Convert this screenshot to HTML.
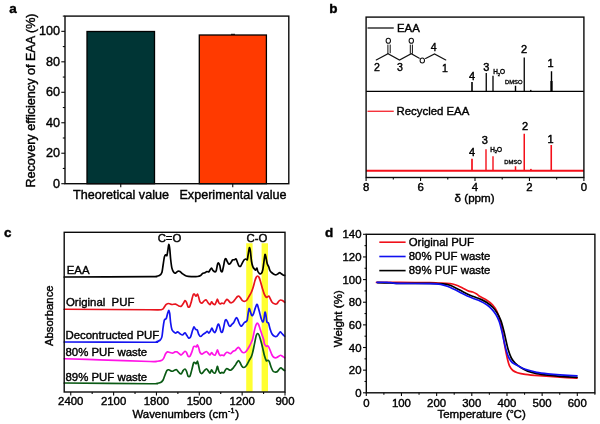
<!DOCTYPE html>
<html><head><meta charset="utf-8"><title>Figure</title>
<style>
html,body{margin:0;padding:0;background:#fff;}
body{width:600px;height:424px;overflow:hidden;font-family:"Liberation Sans",sans-serif;}
svg{display:block;filter:blur(0.35px);font-family:"Liberation Sans",sans-serif;}
text{fill:#000;stroke:#000;stroke-width:0.4px;}
.t{font-size:11.4px;}
#pa .t{font-size:12.6px;}
.pl{font-size:13.5px;font-weight:bold;}
.ax{stroke:#0a0a0a;stroke-width:1.4;fill:none;}
.tk{stroke:#0a0a0a;stroke-width:1.1;fill:none;}
.cv{fill:none;stroke-width:1.7;stroke-linejoin:round;stroke-linecap:round;}
</style></head><body>
<svg width="600" height="424" viewBox="0 0 600 424">
<rect width="600" height="424" fill="#fff"/>

<g id="pa">
<text class="pl" x="9.3" y="13.4">a</text>
<rect x="87" y="31.5" width="67.5" height="152.2" fill="#003535" stroke="#000" stroke-width="1.3"/>
<rect x="199.3" y="35" width="67.1" height="148.7" fill="#ff3a00" stroke="#000" stroke-width="1.3"/>
<line x1="231" y1="34.3" x2="235" y2="34.3" stroke="#000" stroke-width="1"/>
<rect class="ax" x="65" y="16.1" width="223.8" height="167.6"/>
<line class="tk" x1="61.3" y1="183.70" x2="65" y2="183.70"/>
<text class="t" x="60" y="187.70" text-anchor="end">0</text>
<line class="tk" x1="61.3" y1="153.23" x2="65" y2="153.23"/>
<text class="t" x="60" y="157.23" text-anchor="end">20</text>
<line class="tk" x1="61.3" y1="122.76" x2="65" y2="122.76"/>
<text class="t" x="60" y="126.76" text-anchor="end">40</text>
<line class="tk" x1="61.3" y1="92.28" x2="65" y2="92.28"/>
<text class="t" x="60" y="96.28" text-anchor="end">60</text>
<line class="tk" x1="61.3" y1="61.81" x2="65" y2="61.81"/>
<text class="t" x="60" y="65.81" text-anchor="end">80</text>
<line class="tk" x1="61.3" y1="31.34" x2="65" y2="31.34"/>
<text class="t" x="60" y="35.34" text-anchor="end">100</text>
<line class="tk" x1="62.8" y1="168.46" x2="65" y2="168.46"/>
<line class="tk" x1="62.8" y1="137.99" x2="65" y2="137.99"/>
<line class="tk" x1="62.8" y1="107.52" x2="65" y2="107.52"/>
<line class="tk" x1="62.8" y1="77.05" x2="65" y2="77.05"/>
<line class="tk" x1="62.8" y1="46.58" x2="65" y2="46.58"/>
<line class="tk" x1="62.8" y1="16.10" x2="65" y2="16.10"/>
<line class="tk" x1="120.75" y1="183.7" x2="120.75" y2="187.2"/>
<line class="tk" x1="232.75" y1="183.7" x2="232.75" y2="187.2"/>
<text class="t" x="121" y="198.5" text-anchor="middle">Theoretical value</text>
<text class="t" x="233" y="198.5" text-anchor="middle">Experimental value</text>
<text class="t" transform="translate(35,100.5) rotate(-90)" text-anchor="middle">Recovery efficiency of EAA (%)</text>
</g>
<g id="pb">
<text class="pl" x="329.3" y="13">b</text>
<line x1="366.1" y1="91.4" x2="583.9" y2="91.4" stroke="#000" stroke-width="1.2"/>
<line x1="472" y1="82" x2="472" y2="91.4" stroke="#000" stroke-width="1.6"/>
<line x1="486.25" y1="73" x2="486.25" y2="91.4" stroke="#000" stroke-width="1.3"/>
<line x1="493" y1="75.75" x2="493" y2="91.4" stroke="#000" stroke-width="1.3"/>
<line x1="515.5" y1="85.75" x2="515.5" y2="91.4" stroke="#000" stroke-width="1.4"/>
<line x1="524.25" y1="57.5" x2="524.25" y2="91.4" stroke="#000" stroke-width="1.3"/>
<line x1="551.5" y1="71.25" x2="551.5" y2="91.4" stroke="#000" stroke-width="1.4"/>
<line x1="551.5" y1="81" x2="551.5" y2="91.4" stroke="#000" stroke-width="2.2"/>
<line x1="530" y1="90.4" x2="531.5" y2="90.4" stroke="#000" stroke-width="1"/>
<line x1="367.5" y1="28" x2="393.75" y2="28" stroke="#000" stroke-width="1.2"/>
<text class="t" x="397" y="32">EAA</text>
<g stroke="#111" stroke-width="1.15" fill="none" stroke-linecap="round">
<polyline points="376.25,60 388,53.75 399.5,60 411.25,53.75 419.3,58.2"/>
<polyline points="425.6,58.4 434.5,54 445.75,60"/>
<line x1="387.9" y1="45" x2="387.9" y2="53.6" stroke-width="1"/><line x1="390.2" y1="45" x2="390.2" y2="52.8" stroke-width="1"/>
<ellipse cx="388.3" cy="40.7" rx="2.2" ry="2.55" stroke-width="1.05"/><ellipse cx="411.3" cy="40.7" rx="2.2" ry="2.55" stroke-width="1.05"/><ellipse cx="422.3" cy="60.4" rx="2.2" ry="2.5" stroke-width="1.05"/>
<line x1="410.3" y1="45" x2="410.3" y2="53.4" stroke-width="1"/><line x1="412.4" y1="45" x2="412.4" y2="53.4" stroke-width="1"/>
</g>
<text x="377" y="70.5" font-size="10.6" text-anchor="middle">2</text>
<text x="400" y="70.5" font-size="10.6" text-anchor="middle">3</text>
<text x="433.75" y="51" font-size="10.6" text-anchor="middle">4</text>
<text x="445" y="72" font-size="10.6" text-anchor="middle">1</text>
<text x="472" y="80" font-size="11" text-anchor="middle" style="stroke-width:0.45px">4</text>
<text x="486.25" y="71" font-size="11" text-anchor="middle" style="stroke-width:0.45px">3</text>
<text x="524" y="53" font-size="11" text-anchor="middle" style="stroke-width:0.45px">2</text>
<text x="550.5" y="66.75" font-size="11" text-anchor="middle" style="stroke-width:0.45px">1</text>
<text x="493.2" y="74.3" font-size="6.4">H<tspan font-size="4" dy="1.3">2</tspan><tspan dy="-1.3">O</tspan></text>
<text x="505" y="84.2" font-size="5.6" style="stroke-width:0.3px" textLength="17.5" lengthAdjust="spacingAndGlyphs">DMSO</text>
<line x1="366.1" y1="170.75" x2="583.9" y2="170.75" stroke="#f40f19" stroke-width="2"/>
<line x1="472" y1="158.75" x2="472" y2="170.75" stroke="#f40f19" stroke-width="1.7"/>
<line x1="486" y1="149.25" x2="486" y2="170.75" stroke="#f40f19" stroke-width="1.4"/>
<line x1="493" y1="156.25" x2="493" y2="170.75" stroke="#f40f19" stroke-width="1.4"/>
<line x1="515.5" y1="166.25" x2="515.5" y2="170.75" stroke="#f40f19" stroke-width="1.5"/>
<line x1="524.25" y1="133.75" x2="524.25" y2="170.75" stroke="#f40f19" stroke-width="1.5"/>
<line x1="551.25" y1="145" x2="551.25" y2="170.75" stroke="#f40f19" stroke-width="1.6"/>
<line x1="530" y1="169.4" x2="531.8" y2="169.4" stroke="#f40f19" stroke-width="1"/>
<line x1="367.5" y1="111.25" x2="393.75" y2="111.25" stroke="#f40f19" stroke-width="1.2"/>
<text class="t" x="396.5" y="115">Recycled EAA</text>
<text x="472" y="156.25" font-size="11" text-anchor="middle" style="stroke-width:0.45px">4</text>
<text x="484.7" y="143.75" font-size="11" text-anchor="middle" style="stroke-width:0.45px">3</text>
<text x="525" y="130" font-size="11" text-anchor="middle" style="stroke-width:0.45px">2</text>
<text x="550.5" y="142.5" font-size="11" text-anchor="middle" style="stroke-width:0.45px">1</text>
<text x="490.2" y="152" font-size="6.4">H<tspan font-size="4" dy="1.3">2</tspan><tspan dy="-1.3">O</tspan></text>
<text x="504.2" y="163.7" font-size="5.6" style="stroke-width:0.3px" textLength="17.5" lengthAdjust="spacingAndGlyphs">DMSO</text>
<rect class="ax" x="366.1" y="17.1" width="217.79999999999995" height="160.4"/>
<line class="tk" x1="583.90" y1="177.5" x2="583.90" y2="181.0"/>
<text class="t" x="583.90" y="190.9" text-anchor="middle">0</text>
<line class="tk" x1="556.67" y1="177.5" x2="556.67" y2="179.5"/>
<line class="tk" x1="529.45" y1="177.5" x2="529.45" y2="181.0"/>
<text class="t" x="529.45" y="190.9" text-anchor="middle">2</text>
<line class="tk" x1="502.22" y1="177.5" x2="502.22" y2="179.5"/>
<line class="tk" x1="475.00" y1="177.5" x2="475.00" y2="181.0"/>
<text class="t" x="475.00" y="190.9" text-anchor="middle">4</text>
<line class="tk" x1="447.77" y1="177.5" x2="447.77" y2="179.5"/>
<line class="tk" x1="420.55" y1="177.5" x2="420.55" y2="181.0"/>
<text class="t" x="420.55" y="190.9" text-anchor="middle">6</text>
<line class="tk" x1="393.32" y1="177.5" x2="393.32" y2="179.5"/>
<line class="tk" x1="366.10" y1="177.5" x2="366.10" y2="181.0"/>
<text class="t" x="366.10" y="190.9" text-anchor="middle">8</text>
<text class="t" x="474.6" y="201.8" text-anchor="middle" style="font-size:11.6px">δ (ppm)</text>
</g>
<g id="pc">
<text class="pl" x="4" y="236.5">c</text>
<rect x="246.2" y="243.25" width="6.4" height="148.5" fill="#ffff32"/>
<rect x="261.6" y="243.25" width="6.4" height="148.5" fill="#ffff32"/>
<path class="cv" stroke="#000" d="M64.25,277.00C76.40,276.94 137.14,276.67 150.00,276.60C162.86,276.53 153.67,276.64 155.00,276.50C156.33,276.36 158.42,276.17 159.40,275.60C160.38,275.03 161.38,274.00 161.90,272.50C162.42,271.00 162.75,267.21 163.10,265.00C163.45,262.79 164.05,258.35 164.40,256.90C164.75,255.45 165.25,254.93 165.60,254.75C165.95,254.57 166.57,256.27 166.90,255.60C167.23,254.93 167.64,251.59 167.90,250.00C168.16,248.41 168.49,244.58 168.75,244.40C169.01,244.22 169.49,246.72 169.75,248.75C170.01,250.78 170.30,256.01 170.60,258.75C170.90,261.49 171.45,266.19 171.90,268.10C172.35,270.01 173.23,271.54 173.75,272.25C174.27,272.96 175.03,273.24 175.60,273.10C176.17,272.96 177.13,271.48 177.75,271.25C178.37,271.02 179.33,271.15 180.00,271.50C180.67,271.85 181.61,273.11 182.50,273.75C183.39,274.39 185.01,275.60 186.25,276.00C187.49,276.40 189.66,276.53 191.25,276.60C192.84,276.67 196.18,276.64 197.50,276.50C198.82,276.36 199.89,276.03 200.60,275.60C201.31,275.18 201.88,273.90 202.50,273.50C203.12,273.10 204.38,273.03 205.00,272.75C205.62,272.47 206.37,271.62 206.90,271.50C207.43,271.38 208.31,272.11 208.75,271.90C209.19,271.69 209.61,270.54 210.00,270.00C210.39,269.46 211.06,268.02 211.50,268.10C211.94,268.19 212.56,270.06 213.10,270.60C213.64,271.14 214.85,271.90 215.30,271.90C215.75,271.90 215.94,271.66 216.25,270.60C216.56,269.54 217.18,265.49 217.50,264.40C217.82,263.31 218.17,262.73 218.50,262.90C218.83,263.07 219.46,264.45 219.80,265.60C220.14,266.75 220.55,270.16 220.90,271.00C221.25,271.84 221.88,272.17 222.25,271.50C222.62,270.83 223.15,267.88 223.50,266.25C223.85,264.62 224.41,261.06 224.75,260.00C225.09,258.94 225.57,258.57 225.90,258.75C226.23,258.93 226.70,260.51 227.10,261.25C227.50,261.99 228.25,263.74 228.75,264.00C229.25,264.26 230.07,263.67 230.60,263.10C231.13,262.53 231.96,260.47 232.50,260.00C233.04,259.53 233.90,259.89 234.40,259.75C234.90,259.61 235.56,258.61 236.00,259.00C236.44,259.39 237.07,261.51 237.50,262.50C237.93,263.49 238.56,265.47 239.00,266.00C239.44,266.53 240.14,266.66 240.60,266.25C241.06,265.84 241.77,263.99 242.25,263.10C242.73,262.21 243.53,260.58 244.00,260.00C244.47,259.42 245.14,259.04 245.60,259.00C246.06,258.96 246.90,260.32 247.25,259.75C247.60,259.18 247.80,256.70 248.10,255.00C248.40,253.30 249.07,248.28 249.40,247.75C249.73,247.22 250.10,249.34 250.40,251.25C250.70,253.16 251.15,259.03 251.50,261.25C251.85,263.47 252.44,265.75 252.90,266.90C253.36,268.05 254.37,268.96 254.75,269.40C255.13,269.84 255.30,270.18 255.60,270.00C255.90,269.82 256.60,267.92 256.90,268.10C257.20,268.28 257.40,270.49 257.75,271.25C258.10,272.01 258.90,273.18 259.40,273.50C259.90,273.82 260.78,274.00 261.25,273.50C261.72,273.00 262.36,271.74 262.75,270.00C263.14,268.26 263.68,263.46 264.00,261.25C264.32,259.04 264.72,254.93 265.00,254.40C265.28,253.87 265.68,256.18 266.00,257.50C266.32,258.82 266.86,262.42 267.25,263.75C267.64,265.08 268.36,265.93 268.75,266.90C269.14,267.87 269.55,269.77 270.00,270.60C270.45,271.43 271.28,272.21 271.90,272.75C272.52,273.29 273.78,274.12 274.40,274.40C275.02,274.68 275.73,274.84 276.25,274.75C276.77,274.66 277.60,274.07 278.10,273.75C278.60,273.43 279.30,272.50 279.75,272.50C280.20,272.50 280.78,273.40 281.25,273.75C281.72,274.10 282.63,274.77 283.10,275.00C283.57,275.23 284.39,275.34 284.60,275.40"/>
<path class="cv" stroke="#e8141e" d="M64.25,309.25C76.40,309.32 136.17,309.71 150.00,309.75C163.83,309.79 159.86,309.90 161.90,309.50C163.94,309.10 163.78,307.62 164.40,306.90C165.02,306.18 165.63,304.88 166.25,304.40C166.87,303.92 167.95,303.49 168.75,303.50C169.55,303.51 170.93,304.42 171.90,304.50C172.87,304.58 174.63,303.89 175.60,304.10C176.57,304.31 177.95,305.70 178.75,306.00C179.55,306.30 180.63,306.57 181.25,306.25C181.87,305.93 182.57,304.55 183.10,303.75C183.63,302.95 184.52,300.78 185.00,300.60C185.48,300.42 186.06,301.61 186.50,302.50C186.94,303.39 187.64,306.33 188.10,306.90C188.56,307.47 189.30,307.21 189.75,306.50C190.20,305.79 190.78,303.53 191.25,301.90C191.72,300.27 192.65,296.11 193.10,295.00C193.55,293.89 193.99,293.92 194.40,294.10C194.81,294.28 195.56,296.25 196.00,296.25C196.44,296.25 197.11,293.92 197.50,294.10C197.89,294.28 198.40,296.39 198.75,297.50C199.10,298.61 199.55,301.11 200.00,301.90C200.45,302.69 201.28,303.28 201.90,303.10C202.52,302.92 203.78,301.04 204.40,300.60C205.02,300.16 205.73,299.70 206.25,300.00C206.77,300.30 207.57,302.08 208.10,302.75C208.63,303.42 209.50,304.87 210.00,304.75C210.50,304.63 211.16,302.04 211.60,301.90C212.04,301.76 212.62,303.37 213.10,303.75C213.58,304.13 214.55,304.86 215.00,304.60C215.45,304.34 215.90,302.66 216.25,301.90C216.60,301.13 217.15,299.10 217.50,299.20C217.85,299.30 218.36,301.92 218.75,302.60C219.14,303.28 219.80,303.94 220.25,304.00C220.70,304.06 221.40,303.04 221.90,303.00C222.40,302.96 223.28,303.95 223.75,303.70C224.22,303.45 224.80,301.86 225.25,301.25C225.70,300.64 226.44,299.49 226.90,299.40C227.36,299.31 227.98,300.13 228.50,300.60C229.02,301.07 229.95,302.57 230.60,302.75C231.25,302.93 232.39,302.47 233.10,301.90C233.81,301.33 234.98,299.51 235.60,298.75C236.22,297.99 237.02,296.85 237.50,296.50C237.98,296.15 238.56,296.02 239.00,296.25C239.44,296.48 240.10,297.48 240.60,298.10C241.10,298.72 241.88,300.15 242.50,300.60C243.12,301.05 244.38,301.33 245.00,301.25C245.62,301.17 246.37,300.62 246.90,300.00C247.43,299.38 248.13,297.96 248.75,296.90C249.37,295.84 250.63,293.83 251.25,292.50C251.87,291.17 252.57,289.19 253.10,287.50C253.63,285.81 254.55,282.05 255.00,280.60C255.45,279.15 255.90,277.90 256.25,277.25C256.60,276.60 257.11,276.00 257.50,276.00C257.89,276.00 258.56,276.41 259.00,277.25C259.44,278.09 260.10,280.27 260.60,281.90C261.10,283.53 261.96,286.98 262.50,288.75C263.04,290.52 263.87,293.20 264.40,294.40C264.93,295.60 265.81,296.90 266.25,297.25C266.69,297.60 267.15,297.08 267.50,296.90C267.85,296.72 268.40,295.83 268.75,296.00C269.10,296.17 269.55,297.26 270.00,298.10C270.45,298.94 271.28,301.10 271.90,301.90C272.52,302.70 273.69,303.49 274.40,303.75C275.11,304.01 276.28,304.10 276.90,303.75C277.52,303.40 278.23,301.78 278.75,301.25C279.27,300.72 280.07,300.09 280.60,300.00C281.13,299.91 281.93,300.28 282.50,300.60C283.07,300.92 284.30,302.02 284.60,302.25"/>
<path class="cv" stroke="#1414f0" d="M64.25,342.00C76.40,342.04 136.97,342.26 150.00,342.25C163.03,342.24 154.83,342.18 156.25,341.90C157.67,341.62 159.20,340.96 160.00,340.25C160.80,339.54 161.46,338.71 161.90,336.90C162.34,335.09 162.75,329.89 163.10,327.50C163.45,325.11 163.95,321.27 164.40,320.00C164.85,318.73 165.81,319.39 166.25,318.50C166.69,317.61 167.15,314.92 167.50,313.75C167.85,312.58 168.43,310.25 168.75,310.25C169.07,310.25 169.49,312.01 169.75,313.75C170.01,315.49 170.30,320.28 170.60,322.50C170.90,324.72 171.45,328.07 171.90,329.40C172.35,330.73 173.23,331.38 173.75,331.90C174.27,332.42 175.07,333.10 175.60,333.10C176.13,333.10 176.88,331.81 177.50,331.90C178.12,331.99 179.29,333.31 180.00,333.75C180.71,334.19 181.79,335.14 182.50,335.00C183.21,334.86 184.38,332.67 185.00,332.75C185.62,332.83 186.37,334.84 186.90,335.60C187.43,336.36 188.23,337.92 188.75,338.10C189.27,338.28 190.07,337.96 190.60,336.90C191.13,335.84 192.02,332.02 192.50,330.60C192.98,329.18 193.56,327.07 194.00,326.90C194.44,326.73 195.14,328.96 195.60,329.40C196.06,329.84 196.80,329.29 197.25,330.00C197.70,330.71 198.28,333.48 198.75,334.40C199.22,335.32 199.98,336.50 200.60,336.50C201.22,336.50 202.39,334.93 203.10,334.40C203.81,333.87 205.01,333.20 205.60,332.75C206.19,332.30 206.80,331.20 207.25,331.25C207.70,331.30 208.32,333.10 208.75,333.10C209.18,333.10 209.80,331.96 210.25,331.25C210.70,330.54 211.45,328.10 211.90,328.10C212.35,328.10 212.96,330.63 213.40,331.25C213.84,331.87 214.57,332.75 215.00,332.50C215.43,332.25 216.03,330.53 216.40,329.50C216.77,328.47 217.29,325.95 217.60,325.20C217.91,324.45 218.29,323.92 218.60,324.20C218.91,324.48 219.47,326.14 219.80,327.20C220.13,328.26 220.53,331.02 220.90,331.70C221.27,332.38 222.00,332.68 222.40,332.00C222.80,331.32 223.38,328.46 223.75,326.90C224.12,325.34 224.65,322.01 225.00,321.00C225.35,319.99 225.90,319.62 226.25,319.75C226.60,319.88 227.11,321.07 227.50,321.90C227.89,322.73 228.61,324.98 229.00,325.60C229.39,326.22 229.84,326.42 230.25,326.25C230.66,326.08 231.40,324.93 231.90,324.40C232.40,323.87 233.28,323.21 233.75,322.50C234.22,321.79 234.86,320.11 235.25,319.40C235.64,318.69 236.15,317.50 236.50,317.50C236.85,317.50 237.34,318.51 237.75,319.40C238.16,320.29 238.94,322.78 239.40,323.75C239.86,324.72 240.56,326.07 241.00,326.25C241.44,326.43 242.02,325.53 242.50,325.00C242.98,324.47 243.87,323.00 244.40,322.50C244.93,322.00 245.85,321.85 246.25,321.50C246.65,321.15 246.99,321.10 247.25,320.00C247.51,318.90 247.84,315.38 248.10,313.75C248.36,312.12 248.80,308.85 249.10,308.50C249.40,308.15 249.91,310.33 250.25,311.25C250.59,312.17 251.18,314.38 251.50,315.00C251.82,315.62 252.18,315.87 252.50,315.60C252.82,315.33 253.36,314.16 253.75,313.10C254.14,312.04 254.80,309.33 255.25,308.10C255.70,306.87 256.50,304.57 256.90,304.40C257.30,304.23 257.70,305.67 258.10,306.90C258.50,308.13 259.30,311.42 259.75,313.10C260.20,314.78 260.82,317.50 261.25,318.75C261.68,320.00 262.40,321.72 262.75,321.90C263.10,322.08 263.43,321.37 263.75,320.00C264.07,318.63 264.68,312.87 265.00,312.25C265.32,311.63 265.73,314.23 266.00,315.60C266.27,316.97 266.55,320.84 266.90,321.90C267.25,322.96 268.06,322.13 268.50,323.10C268.94,324.07 269.52,327.24 270.00,328.75C270.48,330.26 271.28,332.69 271.90,333.75C272.52,334.81 273.69,335.90 274.40,336.25C275.11,336.60 276.28,336.60 276.90,336.25C277.52,335.90 278.28,334.37 278.75,333.75C279.22,333.13 279.80,331.94 280.25,331.90C280.70,331.86 281.28,332.88 281.90,333.50C282.52,334.12 284.22,335.86 284.60,336.25"/>
<path class="cv" stroke="#ff14e6" d="M64.25,358.75C69.31,358.90 87.85,359.41 100.00,359.80C112.15,360.19 141.85,361.29 150.00,361.50C158.15,361.71 155.81,361.43 157.50,361.25C159.19,361.07 161.01,360.70 161.90,360.25C162.79,359.80 163.23,359.02 163.75,358.10C164.27,357.18 165.07,354.63 165.60,353.75C166.13,352.87 166.88,352.08 167.50,351.90C168.12,351.72 169.29,352.33 170.00,352.50C170.71,352.67 171.79,353.19 172.50,353.10C173.21,353.02 174.38,352.07 175.00,351.90C175.62,351.73 176.28,351.64 176.90,351.90C177.52,352.16 178.78,353.31 179.40,353.75C180.02,354.19 180.73,355.09 181.25,355.00C181.77,354.91 182.57,353.63 183.10,353.10C183.63,352.57 184.52,351.33 185.00,351.25C185.48,351.17 186.06,351.79 186.50,352.50C186.94,353.21 187.60,355.72 188.10,356.25C188.60,356.78 189.46,356.87 190.00,356.25C190.54,355.63 191.40,353.22 191.90,351.90C192.40,350.58 193.10,347.70 193.50,346.90C193.90,346.10 194.36,346.25 194.75,346.25C195.14,346.25 195.86,347.08 196.25,346.90C196.64,346.72 197.15,344.83 197.50,345.00C197.85,345.17 198.40,347.04 198.75,348.10C199.10,349.16 199.55,351.65 200.00,352.50C200.45,353.35 201.28,354.10 201.90,354.10C202.52,354.10 203.75,352.87 204.40,352.50C205.05,352.13 205.98,351.42 206.50,351.50C207.02,351.58 207.60,352.60 208.10,353.10C208.60,353.60 209.50,355.08 210.00,355.00C210.50,354.92 211.16,352.58 211.60,352.50C212.04,352.42 212.62,354.02 213.10,354.40C213.58,354.78 214.55,355.43 215.00,355.20C215.45,354.97 215.90,353.55 216.25,352.80C216.60,352.05 217.15,349.81 217.50,349.90C217.85,349.98 218.36,352.59 218.75,353.40C219.14,354.21 219.80,355.37 220.25,355.60C220.70,355.83 221.40,355.00 221.90,355.00C222.40,355.00 223.28,355.80 223.75,355.60C224.22,355.40 224.80,354.07 225.25,353.60C225.70,353.13 226.44,352.37 226.90,352.25C227.36,352.13 227.98,352.54 228.50,352.75C229.02,352.96 229.95,353.96 230.60,353.75C231.25,353.54 232.48,351.70 233.10,351.25C233.72,350.80 234.46,350.99 235.00,350.60C235.54,350.21 236.40,348.97 236.90,348.50C237.40,348.03 238.06,347.18 238.50,347.25C238.94,347.32 239.52,348.34 240.00,349.00C240.48,349.66 241.37,351.37 241.90,351.90C242.43,352.43 243.23,352.75 243.75,352.75C244.27,352.75 245.07,352.37 245.60,351.90C246.13,351.43 246.96,350.20 247.50,349.40C248.04,348.60 248.87,347.23 249.40,346.25C249.93,345.27 250.81,343.47 251.25,342.50C251.69,341.53 252.15,340.64 252.50,339.40C252.85,338.16 253.40,335.35 253.75,333.75C254.10,332.15 254.65,329.42 255.00,328.10C255.35,326.78 255.93,325.11 256.25,324.40C256.57,323.69 256.93,323.10 257.25,323.10C257.57,323.10 258.11,323.60 258.50,324.40C258.89,325.20 259.52,327.33 260.00,328.75C260.48,330.17 261.37,332.81 261.90,334.40C262.43,335.99 263.40,338.68 263.75,340.00C264.10,341.32 264.05,342.86 264.40,343.75C264.75,344.64 265.73,345.93 266.25,346.25C266.77,346.57 267.57,345.47 268.10,346.00C268.63,346.53 269.46,348.76 270.00,350.00C270.54,351.24 271.37,353.72 271.90,354.75C272.43,355.78 273.13,356.82 273.75,357.25C274.37,357.68 275.54,357.89 276.25,357.75C276.96,357.61 278.13,356.60 278.75,356.25C279.37,355.90 280.07,355.25 280.60,355.25C281.13,355.25 281.93,355.90 282.50,356.25C283.07,356.60 284.30,357.54 284.60,357.75"/>
<path class="cv" stroke="#0a5a14" d="M64.25,383.00C76.40,383.11 136.97,383.68 150.00,383.75C163.03,383.82 154.75,383.68 156.25,383.50C157.75,383.32 159.63,383.00 160.60,382.50C161.57,382.00 162.48,381.06 163.10,380.00C163.72,378.94 164.46,376.33 165.00,375.00C165.54,373.67 166.37,371.34 166.90,370.60C167.43,369.86 168.04,369.66 168.75,369.75C169.46,369.84 171.10,371.18 171.90,371.25C172.70,371.32 173.75,370.46 174.40,370.25C175.05,370.04 175.88,369.47 176.50,369.75C177.12,370.03 178.11,371.65 178.75,372.25C179.39,372.85 180.38,374.23 181.00,374.00C181.62,373.77 182.53,371.31 183.10,370.60C183.67,369.89 184.52,368.91 185.00,369.00C185.48,369.09 186.06,370.22 186.50,371.25C186.94,372.28 187.60,375.58 188.10,376.25C188.60,376.92 189.46,376.97 190.00,376.00C190.54,375.03 191.40,371.23 191.90,369.40C192.40,367.57 193.10,364.08 193.50,363.10C193.90,362.12 194.36,362.41 194.75,362.50C195.14,362.59 195.86,363.93 196.25,363.75C196.64,363.57 197.15,360.90 197.50,361.25C197.85,361.60 198.40,364.74 198.75,366.25C199.10,367.76 199.55,370.87 200.00,371.90C200.45,372.93 201.28,373.68 201.90,373.50C202.52,373.32 203.75,371.27 204.40,370.60C205.05,369.93 205.98,368.75 206.50,368.75C207.02,368.75 207.60,369.98 208.10,370.60C208.60,371.22 209.50,373.22 210.00,373.10C210.50,372.98 211.16,369.87 211.60,369.75C212.04,369.63 212.62,371.78 213.10,372.25C213.58,372.72 214.55,373.38 215.00,373.10C215.45,372.82 215.90,371.25 216.25,370.30C216.60,369.35 217.15,366.30 217.50,366.40C217.85,366.50 218.36,370.05 218.75,371.00C219.14,371.95 219.80,372.90 220.25,373.10C220.70,373.30 221.40,372.43 221.90,372.40C222.40,372.37 223.28,373.21 223.75,372.90C224.22,372.59 224.80,370.82 225.25,370.20C225.70,369.58 226.44,368.61 226.90,368.50C227.36,368.39 227.98,369.15 228.50,369.40C229.02,369.65 229.95,370.43 230.60,370.25C231.25,370.07 232.48,368.76 233.10,368.10C233.72,367.44 234.46,366.39 235.00,365.60C235.54,364.81 236.40,363.21 236.90,362.50C237.40,361.79 238.06,360.60 238.50,360.60C238.94,360.60 239.52,361.70 240.00,362.50C240.48,363.30 241.37,365.54 241.90,366.25C242.43,366.96 243.23,367.46 243.75,367.50C244.27,367.54 245.07,367.03 245.60,366.50C246.13,365.97 246.96,364.67 247.50,363.75C248.04,362.83 248.87,360.97 249.40,360.00C249.93,359.03 250.81,357.88 251.25,356.90C251.69,355.92 252.15,354.43 252.50,353.10C252.85,351.77 253.40,349.18 253.75,347.50C254.10,345.82 254.65,342.94 255.00,341.25C255.35,339.56 255.90,336.70 256.25,335.60C256.60,334.50 257.11,333.58 257.50,333.50C257.89,333.42 258.56,334.08 259.00,335.00C259.44,335.92 260.10,338.27 260.60,340.00C261.10,341.73 261.96,344.99 262.50,347.20C263.04,349.41 263.87,353.70 264.40,355.60C264.93,357.50 265.73,359.94 266.25,360.60C266.77,361.26 267.65,360.07 268.10,360.25C268.55,360.43 268.95,360.87 269.40,361.90C269.85,362.93 270.73,366.18 271.25,367.50C271.77,368.82 272.48,370.60 273.10,371.25C273.72,371.90 274.98,372.06 275.60,372.10C276.22,372.14 276.96,371.94 277.50,371.50C278.04,371.06 278.90,369.53 279.40,369.00C279.90,368.47 280.56,367.75 281.00,367.75C281.44,367.75 281.99,368.60 282.50,369.00C283.01,369.40 284.30,370.37 284.60,370.60"/>
<rect class="ax" x="64.2" y="232.3" width="220.8" height="159.7"/>
<line class="tk" x1="285.00" y1="392" x2="285.00" y2="395.5"/>
<text class="t" x="285.00" y="405" text-anchor="middle">900</text>
<line class="tk" x1="263.58" y1="392" x2="263.58" y2="394"/>
<line class="tk" x1="242.15" y1="392" x2="242.15" y2="395.5"/>
<text class="t" x="242.15" y="405" text-anchor="middle">1200</text>
<line class="tk" x1="220.73" y1="392" x2="220.73" y2="394"/>
<line class="tk" x1="199.30" y1="392" x2="199.30" y2="395.5"/>
<text class="t" x="199.30" y="405" text-anchor="middle">1500</text>
<line class="tk" x1="177.88" y1="392" x2="177.88" y2="394"/>
<line class="tk" x1="156.45" y1="392" x2="156.45" y2="395.5"/>
<text class="t" x="156.45" y="405" text-anchor="middle">1800</text>
<line class="tk" x1="135.03" y1="392" x2="135.03" y2="394"/>
<line class="tk" x1="113.60" y1="392" x2="113.60" y2="395.5"/>
<text class="t" x="113.60" y="405" text-anchor="middle">2100</text>
<line class="tk" x1="92.18" y1="392" x2="92.18" y2="394"/>
<line class="tk" x1="70.75" y1="392" x2="70.75" y2="395.5"/>
<text class="t" x="70.75" y="405" text-anchor="middle">2400</text>
<text class="t" x="169.5" y="242" text-anchor="middle">C=O</text>
<text class="t" x="257" y="242" text-anchor="middle">C-O</text>
<text class="t" x="66.75" y="273.75" >EAA</text>
<text class="t" x="66" y="305.75" >Original&#160; PUF</text>
<text class="t" x="65.5" y="339.25" >Decontructed PUF</text>
<text class="t" x="65.5" y="355.75" >80% PUF waste</text>
<text class="t" x="65.5" y="380.75" >89% PUF waste</text>
<text class="t" transform="translate(53,315.7) rotate(-90)" text-anchor="middle" >Absorbance</text>
<text class="t" x="185.8" y="417.5" text-anchor="middle">Wavenumbers (cm<tspan font-size="7.2" dy="-4.2" dx="0.4">-1</tspan><tspan dy="4.2" dx="0.9">)</tspan></text>
</g>
<g id="pd">
<text class="pl" x="325" y="237">d</text>
<path class="cv" stroke="#f0101a" stroke-width="1.7" d="M376.50,282.40C378.41,282.39 386.67,282.34 390.00,282.35C393.33,282.36 394.33,282.40 400.00,282.45C405.67,282.50 424.62,282.61 430.00,282.70C435.38,282.79 435.73,283.02 438.00,283.10C440.27,283.19 443.92,283.17 446.00,283.30C448.08,283.43 451.00,283.66 452.70,284.00C454.40,284.34 456.50,285.08 458.00,285.70C459.50,286.32 461.78,287.63 463.30,288.40C464.82,289.16 467.37,290.59 468.70,291.10C470.03,291.61 471.57,291.59 472.70,292.00C473.83,292.41 475.67,293.36 476.70,294.00C477.73,294.64 478.57,295.62 480.00,296.50C481.43,297.38 485.03,299.04 486.80,300.20C488.57,301.36 491.06,303.10 492.50,304.70C493.94,306.30 495.88,309.09 497.00,311.50C498.12,313.91 499.59,318.64 500.40,321.70C501.21,324.76 502.06,329.56 502.70,333.10C503.34,336.64 504.26,343.17 504.90,346.70C505.54,350.23 506.55,355.28 507.20,358.00C507.85,360.72 508.69,364.13 509.50,365.90C510.31,367.67 511.78,369.54 512.90,370.50C514.02,371.46 515.64,372.16 517.40,372.70C519.16,373.24 522.25,373.88 525.30,374.30C528.35,374.73 533.98,375.29 538.90,375.70C543.82,376.11 554.60,376.85 560.00,377.20C565.40,377.55 574.59,378.06 577.00,378.20"/>
<path class="cv" stroke="#000" stroke-width="1.7" d="M377.50,282.60C379.27,282.66 386.81,282.87 390.00,283.00C393.19,283.13 394.33,283.44 400.00,283.50C405.67,283.56 423.87,283.34 430.00,283.40C436.13,283.46 440.47,283.63 443.30,283.90C446.13,284.17 448.10,284.66 450.00,285.30C451.90,285.94 454.82,287.45 456.70,288.40C458.58,289.35 461.42,291.02 463.30,292.00C465.18,292.98 468.10,294.49 470.00,295.30C471.90,296.11 475.28,297.18 476.70,297.70C478.12,298.22 478.57,298.32 480.00,299.00C481.43,299.68 485.03,301.37 486.80,302.50C488.57,303.63 491.06,305.56 492.50,307.00C493.94,308.44 495.81,310.77 497.00,312.70C498.19,314.63 499.94,318.04 500.90,320.60C501.86,323.16 503.06,327.91 503.80,330.80C504.54,333.69 505.46,338.27 506.10,341.00C506.74,343.73 507.56,347.69 508.30,350.10C509.04,352.51 510.34,356.17 511.30,358.00C512.26,359.83 513.75,361.65 515.10,363.00C516.45,364.35 519.03,366.35 520.80,367.50C522.57,368.65 525.35,370.24 527.60,371.10C529.85,371.96 533.81,373.02 536.70,373.60C539.59,374.18 544.70,374.82 548.00,375.20C551.30,375.58 555.89,375.99 560.00,376.30C564.11,376.61 574.59,377.24 577.00,377.40"/>
<path class="cv" stroke="#1010f0" stroke-width="1.7" d="M377.00,282.30C378.42,282.30 384.73,282.20 387.00,282.30C389.27,282.40 391.16,282.86 393.00,283.00C394.84,283.14 394.76,283.20 400.00,283.30C405.24,283.40 424.23,283.54 430.00,283.70C435.77,283.86 438.25,284.03 440.70,284.40C443.15,284.77 445.42,285.61 447.30,286.30C449.18,286.99 452.10,288.39 454.00,289.30C455.90,290.21 458.82,291.75 460.70,292.70C462.58,293.65 465.42,295.15 467.30,296.00C469.18,296.85 472.20,298.01 474.00,298.70C475.80,299.39 478.19,300.05 480.00,300.90C481.81,301.75 485.20,303.61 486.80,304.70C488.40,305.79 490.01,307.21 491.30,308.60C492.59,309.99 494.77,312.64 495.90,314.50C497.03,316.36 498.44,319.24 499.30,321.70C500.16,324.16 501.31,329.01 502.00,331.90C502.69,334.79 503.56,339.37 504.20,342.10C504.84,344.83 505.82,348.95 506.50,351.20C507.18,353.45 508.19,356.40 509.00,358.00C509.81,359.60 511.01,361.44 512.20,362.50C513.39,363.56 515.54,364.54 517.40,365.50C519.26,366.46 522.57,368.34 525.30,369.30C528.03,370.26 533.48,371.66 536.70,372.30C539.92,372.94 544.70,373.45 548.00,373.80C551.30,374.15 555.89,374.52 560.00,374.80C564.11,375.08 574.59,375.66 577.00,375.80"/>
<rect class="ax" x="366.3" y="234.3" width="228.6" height="158.5"/>
<line class="tk" x1="363" y1="392.80" x2="366.3" y2="392.80"/>
<text class="t" x="361.5" y="396.90" text-anchor="end">0</text>
<line class="tk" x1="364.5" y1="381.48" x2="366.3" y2="381.48"/>
<line class="tk" x1="363" y1="370.16" x2="366.3" y2="370.16"/>
<text class="t" x="361.5" y="374.26" text-anchor="end">20</text>
<line class="tk" x1="364.5" y1="358.84" x2="366.3" y2="358.84"/>
<line class="tk" x1="363" y1="347.51" x2="366.3" y2="347.51"/>
<text class="t" x="361.5" y="351.61" text-anchor="end">40</text>
<line class="tk" x1="364.5" y1="336.19" x2="366.3" y2="336.19"/>
<line class="tk" x1="363" y1="324.87" x2="366.3" y2="324.87"/>
<text class="t" x="361.5" y="328.97" text-anchor="end">60</text>
<line class="tk" x1="364.5" y1="313.55" x2="366.3" y2="313.55"/>
<line class="tk" x1="363" y1="302.23" x2="366.3" y2="302.23"/>
<text class="t" x="361.5" y="306.33" text-anchor="end">80</text>
<line class="tk" x1="364.5" y1="290.91" x2="366.3" y2="290.91"/>
<line class="tk" x1="363" y1="279.59" x2="366.3" y2="279.59"/>
<text class="t" x="361.5" y="283.69" text-anchor="end">100</text>
<line class="tk" x1="364.5" y1="268.26" x2="366.3" y2="268.26"/>
<line class="tk" x1="363" y1="256.94" x2="366.3" y2="256.94"/>
<text class="t" x="361.5" y="261.04" text-anchor="end">120</text>
<line class="tk" x1="364.5" y1="245.62" x2="366.3" y2="245.62"/>
<line class="tk" x1="363" y1="234.30" x2="366.3" y2="234.30"/>
<text class="t" x="361.5" y="238.40" text-anchor="end">140</text>
<line class="tk" x1="366.30" y1="392.8" x2="366.30" y2="396"/>
<text class="t" x="366.30" y="406.75" text-anchor="middle">0</text>
<line class="tk" x1="383.88" y1="392.8" x2="383.88" y2="394.7"/>
<line class="tk" x1="401.47" y1="392.8" x2="401.47" y2="396"/>
<text class="t" x="401.47" y="406.75" text-anchor="middle">100</text>
<line class="tk" x1="419.05" y1="392.8" x2="419.05" y2="394.7"/>
<line class="tk" x1="436.63" y1="392.8" x2="436.63" y2="396"/>
<text class="t" x="436.63" y="406.75" text-anchor="middle">200</text>
<line class="tk" x1="454.22" y1="392.8" x2="454.22" y2="394.7"/>
<line class="tk" x1="471.80" y1="392.8" x2="471.80" y2="396"/>
<text class="t" x="471.80" y="406.75" text-anchor="middle">300</text>
<line class="tk" x1="489.38" y1="392.8" x2="489.38" y2="394.7"/>
<line class="tk" x1="506.97" y1="392.8" x2="506.97" y2="396"/>
<text class="t" x="506.97" y="406.75" text-anchor="middle">400</text>
<line class="tk" x1="524.55" y1="392.8" x2="524.55" y2="394.7"/>
<line class="tk" x1="542.13" y1="392.8" x2="542.13" y2="396"/>
<text class="t" x="542.13" y="406.75" text-anchor="middle">500</text>
<line class="tk" x1="559.72" y1="392.8" x2="559.72" y2="394.7"/>
<line class="tk" x1="577.30" y1="392.8" x2="577.30" y2="396"/>
<text class="t" x="577.30" y="406.75" text-anchor="middle">600</text>
<line class="tk" x1="594.89" y1="392.8" x2="594.89" y2="394.7"/>
<line x1="379.3" y1="242.2" x2="405.6" y2="242.2" stroke="#f0101a" stroke-width="1.6"/>
<line x1="379.3" y1="256.5" x2="405.6" y2="256.5" stroke="#1010f0" stroke-width="1.6"/>
<line x1="379.3" y1="270.6" x2="405.6" y2="270.6" stroke="#000" stroke-width="1.6"/>
<text class="t" x="408.75" y="245.75">Original PUF</text>
<text class="t" x="408.75" y="260">80% PUF waste</text>
<text class="t" x="408.75" y="274.25">89% PUF waste</text>
<text class="t" transform="translate(342,318.7) rotate(-90)" text-anchor="middle" style="font-size:11.55px">Weight (%)</text>
<text class="t" x="481.6" y="417.6" text-anchor="middle" style="font-size:11.55px">Temperature <tspan dx="0.6">(</tspan><tspan font-size="5.6" dy="-5" dx="0.3">o</tspan><tspan dy="5" dx="0.3">C)</tspan></text>
</g>
</svg></body></html>
